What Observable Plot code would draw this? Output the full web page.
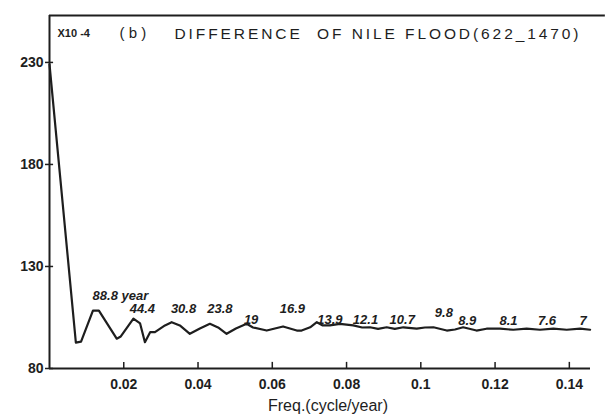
<!DOCTYPE html>
<html>
<head>
<meta charset="utf-8">
<script src="https://cdn.jsdelivr.net/npm/d3@7"></script>
<script src="https://cdn.jsdelivr.net/npm/@observablehq/plot@0.6"></script>
<style>
  html, body { margin: 0; padding: 0; background: #ffffff; }
  #chart { width: 605px; height: 418px; }
</style>
</head>
<body>
<div id="chart"></div>
<script>
// Spectrum of the difference of Nile flood (622–1470), values ×10^-4
const freq = [0, 0.0071, 0.0085, 0.0117, 0.0133, 0.0181, 0.0192, 0.0226, 0.0244, 0.0257,
  0.0271, 0.0284, 0.0311, 0.0329, 0.0351, 0.0378, 0.0405, 0.0432, 0.0454, 0.0477,
  0.0502, 0.0531, 0.0548, 0.0585, 0.0629, 0.0666, 0.0679, 0.0702, 0.0720, 0.0736,
  0.0755, 0.0782, 0.0818, 0.0842, 0.0863, 0.0885, 0.0908, 0.0930, 0.0953, 0.0989,
  0.1011, 0.1034, 0.1070, 0.1092, 0.1114, 0.1150, 0.1177, 0.1213, 0.1249, 0.1285,
  0.1321, 0.1357, 0.1393, 0.1429, 0.1456];
const power = [229, 92.7, 93.2, 108.4, 108.4, 94.6, 95.7, 104.4, 102.1, 92.9,
  97.8, 97.8, 101.1, 102.7, 101.1, 97.0, 99.6, 101.9, 100.1, 97.0,
  99.6, 101.9, 100.1, 98.6, 100.6, 98.6, 98.6, 100.2, 102.7, 101.1,
  101.1, 101.9, 101.1, 100.1, 100.2, 99.4, 100.2, 99.4, 100.2, 99.5,
  100.1, 100.2, 98.6, 99.1, 100.2, 98.6, 99.5, 99.5, 99.0, 99.5,
  99.0, 99.5, 99.0, 99.5, 99.0];

// Period annotations (years) and their anchor positions in data units
const periodLabels = ["88.8 year", "44.4", "30.8", "23.8", "19", "16.9", "13.9", "12.1", "10.7", "9.8", "8.9", "8.1", "7.6", "7"];
const labelFreq  = [0.0191, 0.0250, 0.0361, 0.0459, 0.0543, 0.0654, 0.0755, 0.0851, 0.0950, 0.1062, 0.1125, 0.1236, 0.1340, 0.1437];
const labelValue = [115.8, 109.4, 109.4, 109.4, 104.0, 109.4, 104.0, 104.0, 104.0, 107.5, 103.5, 103.5, 103.5, 103.5];

const xTicks = [0.02, 0.04, 0.06, 0.08, 0.1, 0.12, 0.14];
const yTicks = [80, 130, 180, 230];
const xDomain = [0, 0.1457];
const yDomain = [80, 253];

const series = freq.map((f, i) => ({f, p: power[i]}));
const labels = periodLabels.map((t, i) => ({t, f: labelFreq[i], p: labelValue[i]}));

const ink = "#1e1e1e";

const chart = Plot.plot({
  width: 605,
  height: 418,
  marginLeft: 49,
  marginRight: 15,
  marginTop: 15,
  marginBottom: 50,
  style: {fontFamily: "'Liberation Sans', Arial, sans-serif", background: "#ffffff", color: ink},
  x: {domain: xDomain},
  y: {domain: yDomain},
  marks: [
    // frame lines
    Plot.ruleX([0], {stroke: ink, strokeWidth: 2}),
    Plot.ruleY([80], {stroke: ink, strokeWidth: 2}),
    Plot.ruleY([yDomain[1]], {x1: 0, x2: 0.1497, stroke: ink, strokeWidth: 2}),
    // inward x ticks
    Plot.ruleX(xTicks, {y1: 80, y2: 83, stroke: ink, strokeWidth: 1.5}),
    // inward y ticks
    Plot.ruleY(yTicks, {x1: 0, x2: 0.0011, stroke: ink, strokeWidth: 1.5}),
    Plot.axisX({ticks: xTicks, tickSize: 0, tickPadding: 11, fontSize: 14, fontWeight: "bold", label: null, tickFormat: d3.format("")}),
    Plot.axisY({ticks: yTicks, tickSize: 4, tickPadding: 2, fontSize: 14, fontWeight: "bold", label: null, stroke: ink, strokeWidth: 1.5}),
    // spectrum line
    Plot.line(series, {x: "f", y: "p", stroke: ink, strokeWidth: 2.2, strokeLinejoin: "round"}),
    // period annotations
    Plot.text(labels, {x: "f", y: "p", text: "t", fontSize: 13, fontStyle: "italic", fontWeight: "bold", fill: ink}),
    // title inside the frame
    Plot.text(["X10 -4"], {frameAnchor: "top-left", dx: 8, dy: 14, fontSize: 11, fontWeight: "bold", textAnchor: "start", fill: ink}),
    Plot.text(["( b )"], {frameAnchor: "top-left", dx: 70, dy: 12, fontSize: 15, textAnchor: "start", fill: ink}),
    Plot.text(["DIFFERENCE  OF NILE FLOOD(622_1470)"], {frameAnchor: "top-left", dx: 125, dy: 12, fontSize: 15.5, textAnchor: "start", fill: ink}),
    // x-axis title
    Plot.text(["Freq.(cycle/year)"], {frameAnchor: "bottom", dx: 8, dy: 42, fontSize: 16, fill: ink})
  ]
});

document.getElementById("chart").appendChild(chart);

// stretch the title to its lettered width
d3.select(chart).selectAll("text").each(function() {
  const t = this.textContent;
  if (t.startsWith("DIFFERENCE")) {
    this.setAttribute("textLength", 404);
    this.setAttribute("lengthAdjust", "spacing");
  }
});
</script>
</body>
</html>
